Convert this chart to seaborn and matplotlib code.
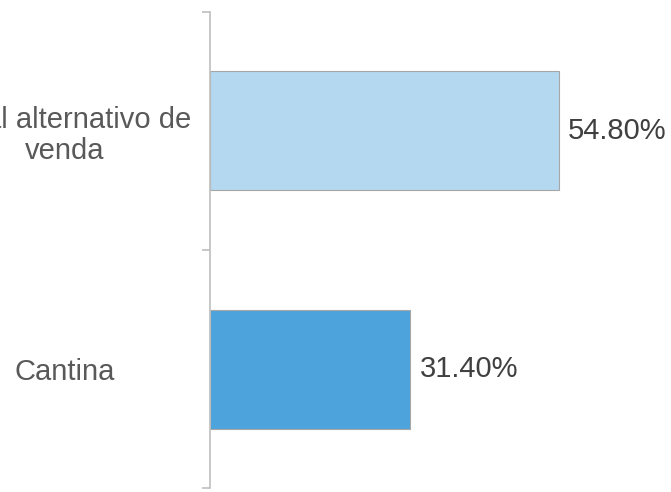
import matplotlib
matplotlib.use("Agg")
import matplotlib.pyplot as plt
import seaborn as sns
import pandas as pd

categories = ["Local alternativo de\nvenda", "Cantina"]
values = [54.8, 31.4]
value_labels = ["54.80%", "31.40%"]
colors = ["#B4D8F0", "#4DA3DB"]

sns.set_theme(style="white")
plt.rcParams['font.family'] = ['Liberation Sans', 'DejaVu Sans']

df = pd.DataFrame({"cat": categories, "val": values})

W, H = 671, 492
fig = plt.figure(figsize=(W / 100, H / 100), dpi=100)
ax = fig.add_axes([210 / W, 4 / H, 461 / W, 476 / H])

sns.barplot(data=df, x="val", y="cat", hue="cat", palette=colors,
            orient="h", width=0.5, legend=False, ax=ax,
            edgecolor="#A6A6A6", linewidth=0.8, saturation=1)

ax.set_xlim(0, 461 / 6.36)
ax.set_ylim(1.5, -0.5)
ax.set_xlabel("")
ax.set_ylabel("")
ax.set_xticks([])

for s in ["top", "right", "bottom"]:
    ax.spines[s].set_visible(False)
ax.spines["left"].set_color("#BFBFBF")
ax.spines["left"].set_linewidth(1.2)

ax.set_yticks([0, 1])
ax.set_yticklabels(categories)
ax.set_yticks([-0.5, 0.5, 1.5], minor=True)
ax.tick_params(axis="y", which="minor", length=6, width=1.2, color="#BFBFBF", left=True)
ax.tick_params(axis="y", which="major", length=0, pad=104.5, labelsize=21, labelcolor="#595959")
for lab in ax.get_yticklabels():
    lab.set_ha("center")
    lab.set_multialignment("center")
    lab.set_linespacing(1.15)

for cont, lab in zip(ax.containers, value_labels):
    ax.bar_label(cont, labels=[lab], padding=7, fontsize=21, color="#404040")

fig.savefig("out.png", dpi=100)
